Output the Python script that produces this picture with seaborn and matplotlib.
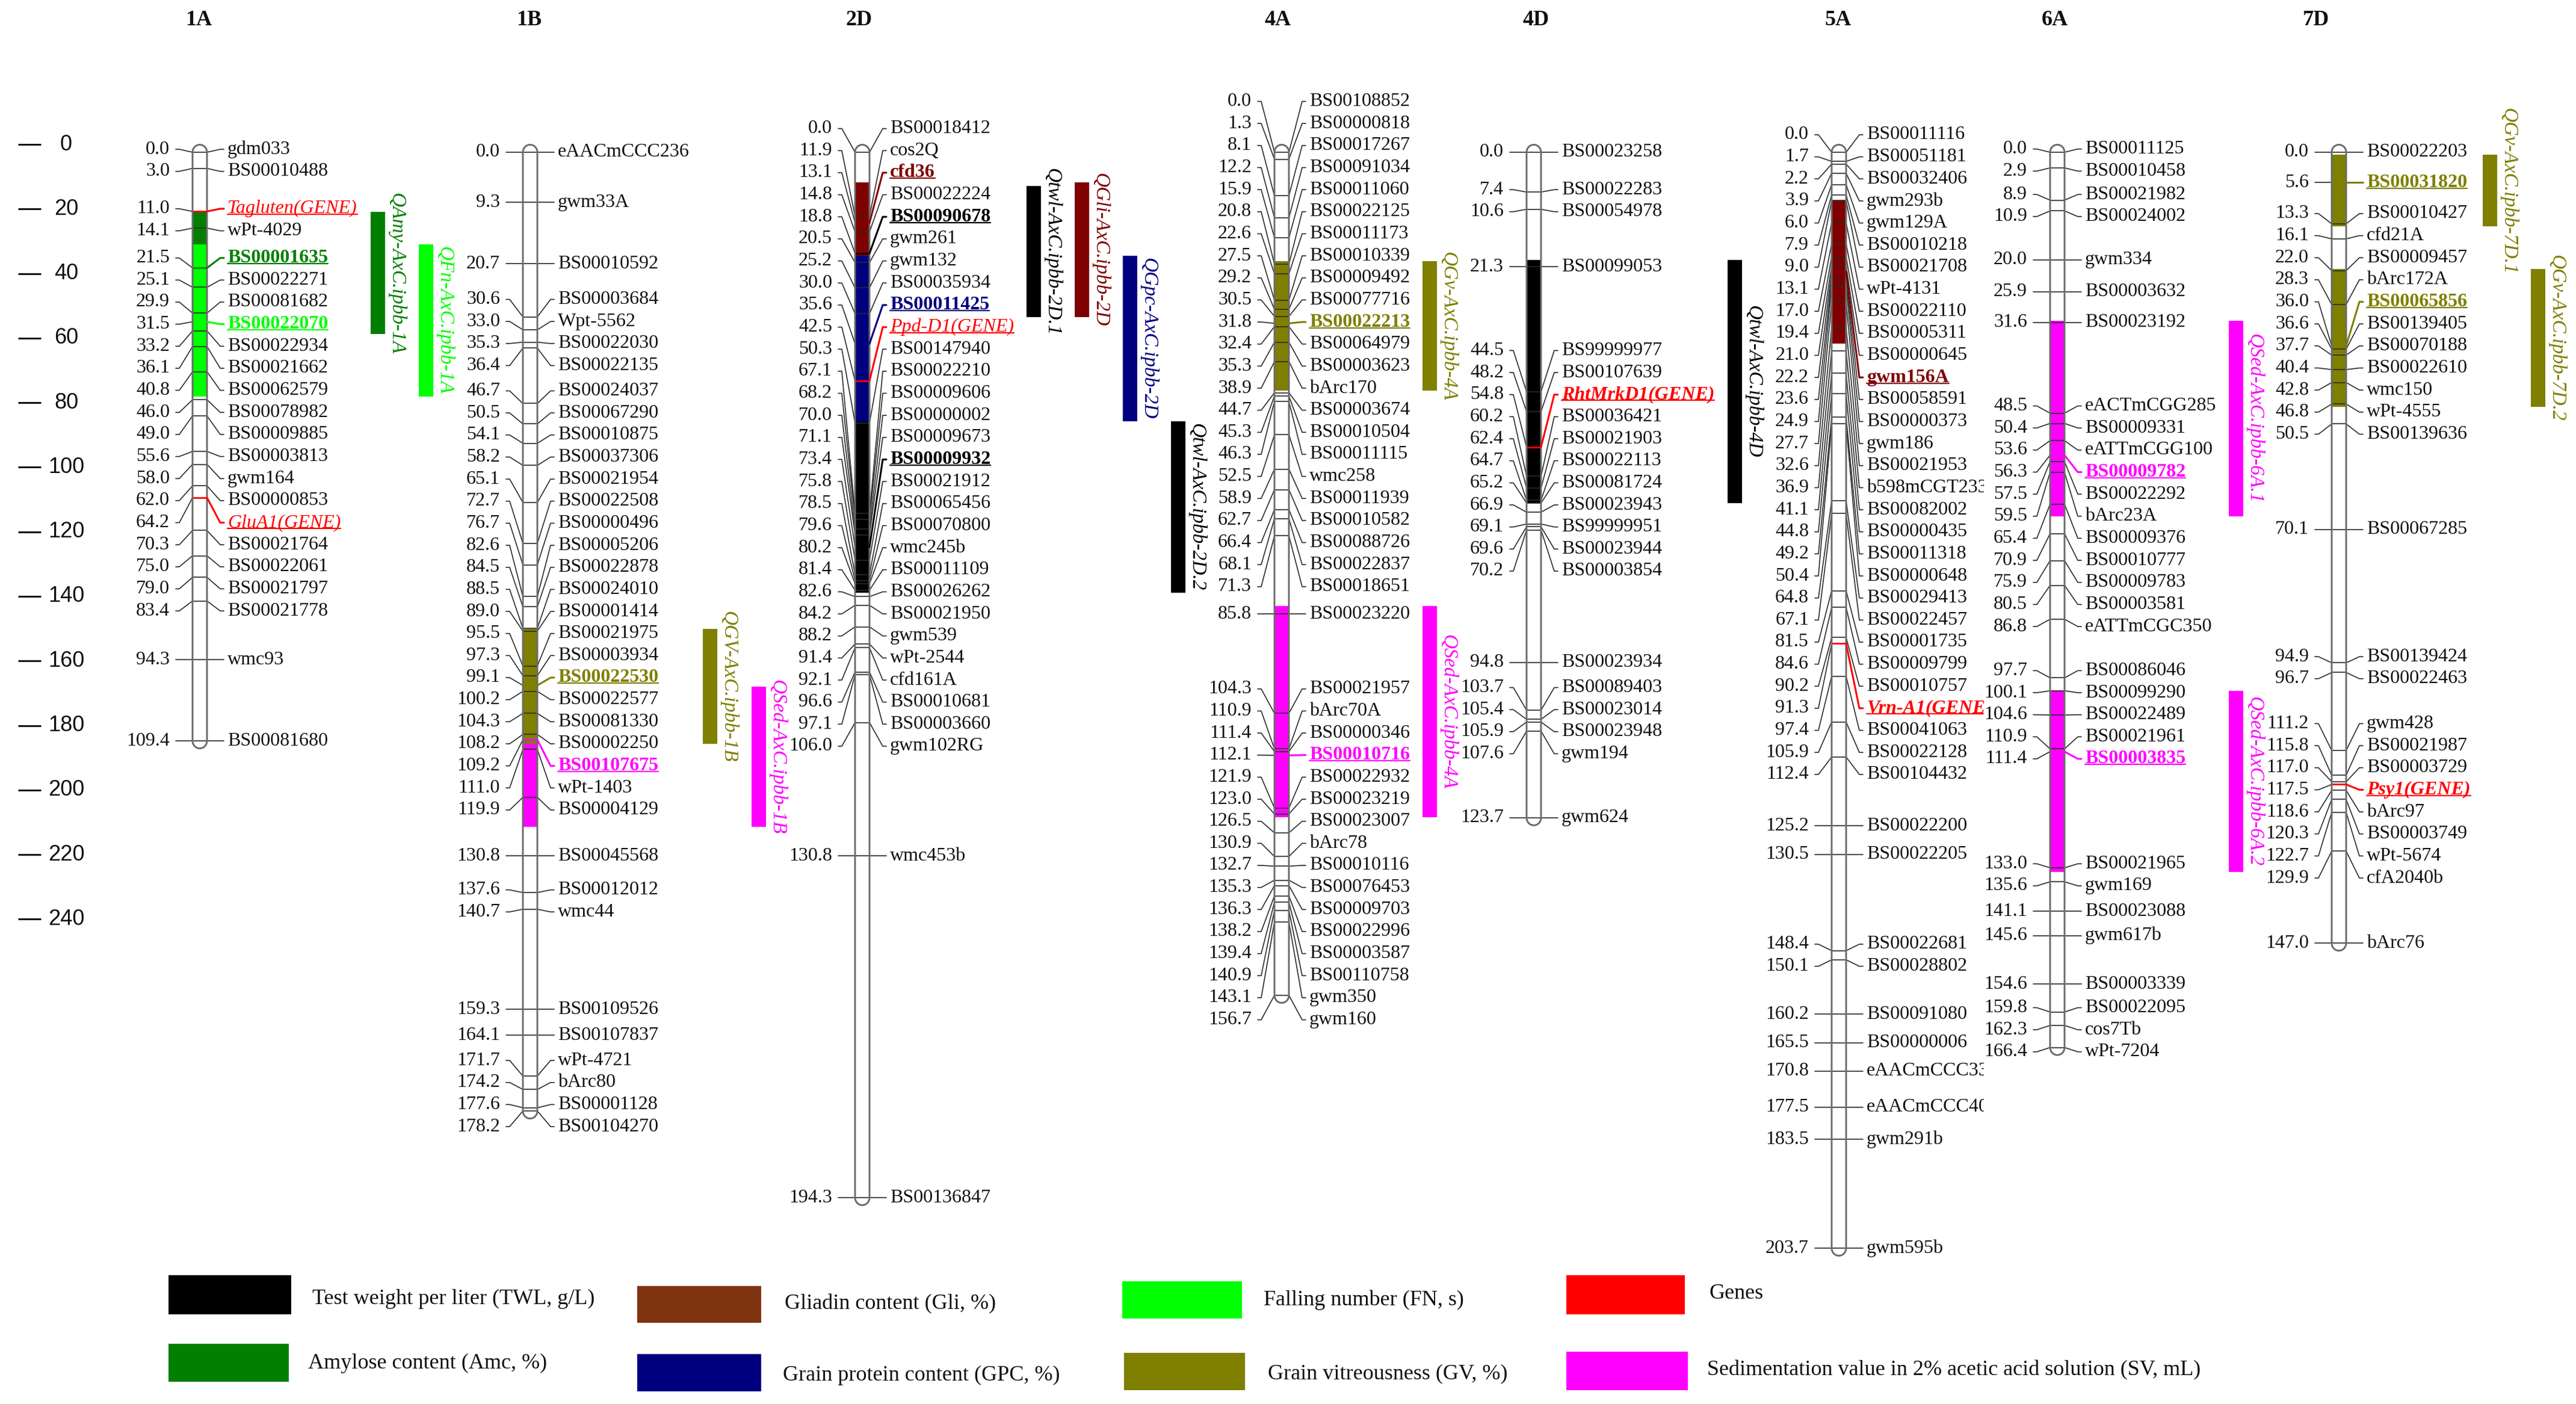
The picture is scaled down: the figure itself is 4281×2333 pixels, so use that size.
import numpy as np
import pandas as pd
import matplotlib
matplotlib.use("Agg")
import matplotlib.pyplot as plt
import seaborn as sns
from matplotlib.patches import Polygon, Rectangle
from matplotlib.transforms import Bbox

# ------------------------------------------------------------------ data
CHROMOSOMES = ["1A", "1B", "2D", "4A", "4D", "5A", "6A", "7D"]

POS_1A = [0.0, 3.0, 11.0, 14.1, 21.5, 25.1, 29.9, 31.5, 33.2, 36.1, 40.8, 46.0, 49.0,
          55.6, 58.0, 62.0, 64.2, 70.3, 75.0, 79.0, 83.4, 94.3, 109.4]
MRK_1A = ["gdm033", "BS00010488", "Tagluten(GENE)", "wPt-4029", "BS00001635", "BS00022271",
          "BS00081682", "BS00022070", "BS00022934", "BS00021662", "BS00062579", "BS00078982",
          "BS00009885", "BS00003813", "gwm164", "BS00000853", "GluA1(GENE)", "BS00021764",
          "BS00022061", "BS00021797", "BS00021778", "wmc93", "BS00081680"]

POS_1B = [0.0, 9.3, 20.7, 30.6, 33.0, 35.3, 36.4, 46.7, 50.5, 54.1, 58.2, 65.1, 72.7, 76.7,
          82.6, 84.5, 88.5, 89.0, 95.5, 97.3, 99.1, 100.2, 104.3, 108.2, 109.2, 111.0, 119.9,
          130.8, 137.6, 140.7, 159.3, 164.1, 171.7, 174.2, 177.6, 178.2]
MRK_1B = ["eAACmCCC236", "gwm33A", "BS00010592", "BS00003684", "Wpt-5562", "BS00022030",
          "BS00022135", "BS00024037", "BS00067290", "BS00010875", "BS00037306", "BS00021954",
          "BS00022508", "BS00000496", "BS00005206", "BS00022878", "BS00024010", "BS00001414",
          "BS00021975", "BS00003934", "BS00022530", "BS00022577", "BS00081330", "BS00002250",
          "BS00107675", "wPt-1403", "BS00004129", "BS00045568", "BS00012012", "wmc44",
          "BS00109526", "BS00107837", "wPt-4721", "bArc80", "BS00001128", "BS00104270"]

POS_2D = [0.0, 11.9, 13.1, 14.8, 18.8, 20.5, 25.2, 30.0, 35.6, 42.5, 50.3, 67.1, 68.2, 70.0,
          71.1, 73.4, 75.8, 78.5, 79.6, 80.2, 81.4, 82.6, 84.2, 88.2, 91.4, 92.1, 96.6, 97.1,
          106.0, 130.8, 194.3]
MRK_2D = ["BS00018412", "cos2Q", "cfd36", "BS00022224", "BS00090678", "gwm261", "gwm132",
          "BS00035934", "BS00011425", "Ppd-D1(GENE)", "BS00147940", "BS00022210", "BS00009606",
          "BS00000002", "BS00009673", "BS00009932", "BS00021912", "BS00065456", "BS00070800",
          "wmc245b", "BS00011109", "BS00026262", "BS00021950", "gwm539", "wPt-2544", "cfd161A",
          "BS00010681", "BS00003660", "gwm102RG", "wmc453b", "BS00136847"]

POS_4A = [0.0, 1.3, 8.1, 12.2, 15.9, 20.8, 22.6, 27.5, 29.2, 30.5, 31.8, 32.4, 35.3, 38.9,
          44.7, 45.3, 46.3, 52.5, 58.9, 62.7, 66.4, 68.1, 71.3, 85.8, 104.3, 110.9, 111.4,
          112.1, 121.9, 123.0, 126.5, 130.9, 132.7, 135.3, 136.3, 138.2, 139.4, 140.9, 143.1,
          156.7]
MRK_4A = ["BS00108852", "BS00000818", "BS00017267", "BS00091034", "BS00011060", "BS00022125",
          "BS00011173", "BS00010339", "BS00009492", "BS00077716", "BS00022213", "BS00064979",
          "BS00003623", "bArc170", "BS00003674", "BS00010504", "BS00011115", "wmc258",
          "BS00011939", "BS00010582", "BS00088726", "BS00022837", "BS00018651", "BS00023220",
          "BS00021957", "bArc70A", "BS00000346", "BS00010716", "BS00022932", "BS00023219",
          "BS00023007", "bArc78", "BS00010116", "BS00076453", "BS00009703", "BS00022996",
          "BS00003587", "BS00110758", "gwm350", "gwm160"]

POS_4D = [0.0, 7.4, 10.6, 21.3, 44.5, 48.2, 54.8, 60.2, 62.4, 64.7, 65.2, 66.9, 69.1, 69.6,
          70.2, 94.8, 103.7, 105.4, 105.9, 107.6, 123.7]
MRK_4D = ["BS00023258", "BS00022283", "BS00054978", "BS00099053", "BS99999977", "BS00107639",
          "RhtMrkD1(GENE)", "BS00036421", "BS00021903", "BS00022113", "BS00081724",
          "BS00023943", "BS99999951", "BS00023944", "BS00003854", "BS00023934", "BS00089403",
          "BS00023014", "BS00023948", "gwm194", "gwm624"]

POS_5A = [0.0, 1.7, 2.2, 3.9, 6.0, 7.9, 9.0, 13.1, 17.0, 19.4, 21.0, 22.2, 23.6, 24.9, 27.7,
          32.6, 36.9, 41.1, 44.8, 49.2, 50.4, 64.8, 67.1, 81.5, 84.6, 90.2, 91.3, 97.4, 105.9,
          112.4, 125.2, 130.5, 148.4, 150.1, 160.2, 165.5, 170.8, 177.5, 183.5, 203.7]
MRK_5A = ["BS00011116", "BS00051181", "BS00032406", "gwm293b", "gwm129A", "BS00010218",
          "BS00021708", "wPt-4131", "BS00022110", "BS00005311", "BS00000645", "gwm156A",
          "BS00058591", "BS00000373", "gwm186", "BS00021953", "b598mCGT233", "BS00082002",
          "BS00000435", "BS00011318", "BS00000648", "BS00029413", "BS00022457", "BS00001735",
          "BS00009799", "BS00010757", "Vrn-A1(GENE)", "BS00041063", "BS00022128", "BS00104432",
          "BS00022200", "BS00022205", "BS00022681", "BS00028802", "BS00091080", "BS00000006",
          "eAACmCCC333", "eAACmCCC400", "gwm291b", "gwm595b"]

POS_6A = [0.0, 2.9, 8.9, 10.9, 20.0, 25.9, 31.6, 48.5, 50.4, 53.6, 56.3, 57.5, 59.5, 65.4,
          70.9, 75.9, 80.5, 86.8, 97.7, 100.1, 104.6, 110.9, 111.4, 133.0, 135.6, 141.1, 145.6,
          154.6, 159.8, 162.3, 166.4]
MRK_6A = ["BS00011125", "BS00010458", "BS00021982", "BS00024002", "gwm334", "BS00003632",
          "BS00023192", "eACTmCGG285", "BS00009331", "eATTmCGG100", "BS00009782", "BS00022292",
          "bArc23A", "BS00009376", "BS00010777", "BS00009783", "BS00003581", "eATTmCGC350",
          "BS00086046", "BS00099290", "BS00022489", "BS00021961", "BS00003835", "BS00021965",
          "gwm169", "BS00023088", "gwm617b", "BS00003339", "BS00022095", "cos7Tb", "wPt-7204"]

POS_7D = [0.0, 5.6, 13.3, 16.1, 22.0, 28.3, 36.0, 36.6, 37.7, 40.4, 42.8, 46.8, 50.5, 70.1,
          94.9, 96.7, 111.2, 115.8, 117.0, 117.5, 118.6, 120.3, 122.7, 129.9, 147.0]
MRK_7D = ["BS00022203", "BS00031820", "BS00010427", "cfd21A", "BS00009457", "bArc172A",
          "BS00065856", "BS00139405", "BS00070188", "BS00022610", "wmc150", "wPt-4555",
          "BS00139636", "BS00067285", "BS00139424", "BS00022463", "gwm428", "BS00021987",
          "BS00003729", "Psy1(GENE)", "bArc97", "BS00003749", "wPt-5674", "cfA2040b", "bArc76"]

MARKERS = {"1A": (POS_1A, MRK_1A), "1B": (POS_1B, MRK_1B), "2D": (POS_2D, MRK_2D),
           "4A": (POS_4A, MRK_4A), "4D": (POS_4D, MRK_4D), "5A": (POS_5A, MRK_5A),
           "6A": (POS_6A, MRK_6A), "7D": (POS_7D, MRK_7D)}

# QTL intervals (cM); later entries are painted over earlier ones on the chromosome
QTL_CHR = ["1A", "1A", "1B", "1B", "2D", "2D", "2D", "2D", "4A", "4A", "4D", "5A",
           "6A", "6A", "7D", "7D"]
QTL_LABEL = ["QAmy-AxC.ipbb-1A", "QFn-AxC.ipbb-1A", "QSed-AxC.ipbb-1B", "QGV-AxC.ipbb-1B",
             "Qtwl-AxC.ipbb-2D.1", "QGli-AxC.ipbb-2D", "QGpc-AxC.ipbb-2D", "Qtwl-AxC.ipbb-2D.2",
             "QGv-AxC.ipbb-4A", "QSed-AxC.ipbb-4A", "Qtwl-AxC.ipbb-4D", "",
             "QSed-AxC.ipbb-6A.1", "QSed-AxC.ipbb-6A.2", "QGv-AxC.ipbb-7D.1", "QGv-AxC.ipbb-7D.2"]
QTL_TRAIT = ["Amc", "FN", "SV", "GV", "TWL", "Gli", "GPC", "TWL", "GV", "SV", "TWL", "Gli",
             "SV", "SV", "GV", "GV"]
QTL_START = [11.1, 17.1, 99.3, 88.6, 6.3, 5.6, 19.2, 50.0, 20.3, 84.3, 20.0, 8.9,
             31.3, 100.1, 0.5, 21.7]
QTL_END = [33.8, 45.4, 125.4, 110.0, 30.6, 30.6, 50.0, 81.9, 44.3, 123.6, 65.2, 35.6,
           67.7, 133.8, 13.8, 47.3]

# markers highlighted as QTL peaks
HL_MARKERS = ["BS00001635", "BS00022070", "BS00022530", "BS00107675", "cfd36", "BS00090678",
              "BS00011425", "BS00009932", "BS00022213", "BS00010716", "gwm156A",
              "BS00009782", "BS00003835", "BS00031820", "BS00065856"]
HL_TRAITS = ["Amc", "FN", "GV", "SV", "Gli", "TWL", "GPC", "TWL", "GV", "SV", "Gli",
             "SV", "SV", "GV", "GV"]

LEGEND_KEYS = ["TWL", "Gli", "FN", "Gene", "Amc", "GPC", "GV", "SV"]
LEGEND_LABELS = ["Test weight per liter (TWL, g/L)", "Gliadin content (Gli, %)",
                 "Falling number (FN, s)", "Genes", "Amylose content (Amc, %)",
                 "Grain protein content (GPC, %)", "Grain vitreousness (GV, %)",
                 "Sedimentation value in 2% acetic acid solution (SV, mL)"]

RULER_TICKS = [0, 20, 40, 60, 80, 100, 120, 140, 160, 180, 200, 220, 240]

# ------------------------------------------------------------------ styles / layout
TRAIT_COLOR = {"TWL": "#000000", "Gli": "#7F0000", "FN": "#00FF00", "Gene": "#FF0000",
               "Amc": "#007F00", "GPC": "#00007F", "GV": "#7F7F00", "SV": "#FF00FF"}
LEGEND_COLOR = dict(TRAIT_COLOR, Gli="#80330F")

W, H = 4281, 2333
Y0_PX = 253.0          # pixel row of 0 cM
PX_PER_CM = 8.94
GAP = 4.1              # minimum label spacing (cM)
HALF = 12              # chromosome half width (px)
CHROM_X = [332, 881, 1433, 2130, 2549, 3056, 3419, 3887]
TITLE_X = [330, 879, 1428, 2124, 2553, 3055, 3415, 3849]
QTL_BAR_X = [616, 696, 1249, 1168, 1706, 1786, 1866, 1946, 2364, 2364, 2871, None,
             3704, 3704, 4126, 4206]
BAR_W = 24
RULER_SCALE = 0.6
RULER_OFFSET = -1.45
NAME_CLIP = {"5A": 3297}
BOLD_GENES = {"4D", "5A", "7D"}

LEGEND_BOX = [(280, 2119, 484, 2184), (1059, 2137, 1265, 2198), (1865, 2129, 2064, 2191),
              (2603, 2119, 2800, 2184), (280, 2233, 480, 2296), (1059, 2250, 1265, 2312),
              (1868, 2248, 2069, 2310), (2603, 2246, 2805, 2310)]
LEGEND_TXT = [(519, 2158), (1304, 2167), (2100, 2160), (2841, 2150), (512, 2265),
              (1301, 2285), (2107, 2283), (2837, 2277)]


def py(px):
    return (px - Y0_PX) / PX_PER_CM


def spread(pos, gap):
    clusters = [[p] for p in pos]

    def start(cl):
        return (cl[0] + cl[-1]) / 2 - (len(cl) - 1) * gap / 2

    changed = True
    while changed:
        changed = False
        out = [clusters[0]]
        for cl in clusters[1:]:
            prev = out[-1]
            prev_end = start(prev) + (len(prev) - 1) * gap
            if start(cl) < prev_end + gap - 1e-9:
                out[-1] = prev + cl
                changed = True
            else:
                out.append(cl)
        clusters = out
    res = []
    for cl in clusters:
        s = start(cl)
        res += [s + i * gap for i in range(len(cl))]
    return res


# ------------------------------------------------------------------ figure
sns.set_theme(style="white")
plt.rcParams["font.family"] = ["Liberation Serif", "DejaVu Serif"]

fig = plt.figure(figsize=(W / 100, H / 100), dpi=100)
fig.patch.set_facecolor("white")
ax = fig.add_axes([0, 0, 1, 1])
ax.set_xlim(0, W)
ax.set_ylim(py(H), py(0))
ax.axis("off")

# ruler
ruler_df = pd.DataFrame({"x": [48.5] * len(RULER_TICKS),
                         "y": [RULER_OFFSET + v * RULER_SCALE for v in RULER_TICKS]})
sns.scatterplot(data=ruler_df, x="x", y="y", marker="_", s=720, color="black",
                linewidth=2.0, ax=ax, legend=False)
for v, yy in zip(RULER_TICKS, ruler_df["y"]):
    ax.text(110, yy, str(v), ha="center", va="center", fontsize=26,
            family="Liberation Sans", color="#111111")

hl_color = {m: TRAIT_COLOR[t] for m, t in zip(HL_MARKERS, HL_TRAITS)}
underlines = []

for ci, chrom in enumerate(CHROMOSOMES):
    c = CHROM_X[ci]
    pos, names = MARKERS[chrom]
    L = max(pos)
    ry = 1.4
    t1 = np.linspace(np.pi, 0, 30)
    t2 = np.linspace(0, np.pi, 30)
    xs = np.concatenate([c + HALF * np.cos(t1), c + HALF * np.cos(t2)])
    ys = np.concatenate([-ry * np.sin(t1), L + ry * np.sin(t2)])
    body = Polygon(np.column_stack([xs, ys]), closed=True, facecolor="white",
                   edgecolor="none", zorder=1)
    ax.add_patch(body)
    # QTL fills on chromosome
    for q in range(len(QTL_CHR)):
        if QTL_CHR[q] != chrom:
            continue
        r = Rectangle((c - HALF, QTL_START[q]), 2 * HALF, QTL_END[q] - QTL_START[q],
                      facecolor=TRAIT_COLOR[QTL_TRAIT[q]], edgecolor="none", zorder=2)
        ax.add_patch(r)
        r.set_clip_path(body)
    outline = Polygon(np.column_stack([xs, ys]), closed=True, facecolor="none",
                      edgecolor="#6a6a6a", linewidth=2.1, zorder=4)
    ax.add_patch(outline)

    ylab = spread(pos, GAP)
    clip = None
    if chrom in NAME_CLIP:
        clip = Bbox([[0, 0], [NAME_CLIP[chrom], H]])
    for p, name, yl in zip(pos, names, ylab):
        is_gene = "(GENE)" in name
        col = TRAIT_COLOR["Gene"] if is_gene else hl_color.get(name)
        hl = col is not None
        lc = col if hl else "#2a2a2a"
        # tick inside chromosome
        ax.plot([c - HALF, c + HALF], [p, p], color=lc, lw=2.0 if hl else 1.2,
                zorder=3, solid_capstyle="butt")
        # left connector
        ax.plot([c - 40, c - 34, c - HALF], [yl, yl, p], color="#2a2a2a", lw=1.2, zorder=3)
        # right connector
        ax.plot([c + HALF, c + 34, c + 40], [p, yl, yl], color=lc,
                lw=2.2 if hl else 1.2, zorder=5 if hl else 3)
        ax.text(c - 50, yl, f"{p:.1f}", ha="right", va="center", fontsize=23,
                color="#111111", zorder=6)
        style = "italic" if is_gene else "normal"
        weight = "bold" if (hl and not is_gene) or (is_gene and chrom in BOLD_GENES) else "normal"
        t = ax.text(c + 46, yl, name, ha="left", va="center", fontsize=23,
                    color=lc if hl else "#111111", fontstyle=style, fontweight=weight,
                    zorder=6)
        if clip is not None:
            t.set_clip_box(clip)
            t.set_clip_on(True)
        if hl:
            underlines.append((t, lc, clip))

    ax.text(TITLE_X[ci], py(33), chrom, ha="center", va="center", fontsize=26,
            fontweight="bold", color="#111111")

# QTL side bars with labels
for q in range(len(QTL_CHR)):
    if QTL_BAR_X[q] is None:
        continue
    col = TRAIT_COLOR[QTL_TRAIT[q]]
    ax.add_patch(Rectangle((QTL_BAR_X[q], QTL_START[q]), BAR_W, QTL_END[q] - QTL_START[q],
                           facecolor=col, edgecolor="none", zorder=2))
    ax.text(QTL_BAR_X[q] + BAR_W + 3, (QTL_START[q] + QTL_END[q]) / 2, QTL_LABEL[q],
            rotation=-90, ha="left", va="center", fontsize=24, fontstyle="italic",
            color=col, zorder=6)

# legend
for key, lab, box, tp in zip(LEGEND_KEYS, LEGEND_LABELS, LEGEND_BOX, LEGEND_TXT):
    x0, y0, x1, y1 = box
    ax.add_patch(Rectangle((x0, py(y0)), x1 - x0, py(y1) - py(y0),
                           facecolor=LEGEND_COLOR[key], edgecolor="none", zorder=2))
    ax.text(tp[0], py(tp[1]), lab, ha="left", va="center", fontsize=26, color="#111111")

# underlines for highlighted markers
fig.canvas.draw()
rend = fig.canvas.get_renderer()
inv = ax.transData.inverted()
for t, col, clip in underlines:
    bb = t.get_window_extent(renderer=rend)
    xa, ya = inv.transform((bb.x0, bb.y0 + 5))
    xb, _ = inv.transform((bb.x1, bb.y0 + 5))
    ln, = ax.plot([xa, xb], [ya, ya], color=col, lw=1.6, zorder=6)
    if clip is not None:
        ln.set_clip_box(clip)
        ln.set_clip_on(True)

fig.savefig("out.png", dpi=100, facecolor="white")
